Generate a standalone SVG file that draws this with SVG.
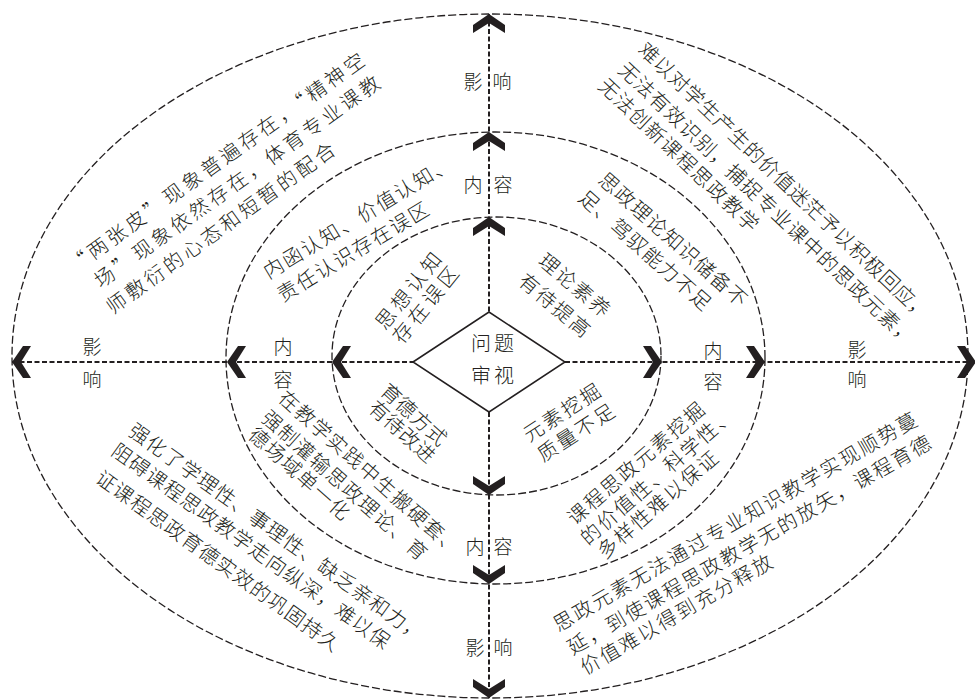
<svg xmlns="http://www.w3.org/2000/svg" width="975" height="700" viewBox="0 0 975 700">
<style>
.ring{fill:none;stroke:#231f20;stroke-width:1.3;stroke-dasharray:8 3}
.axis{fill:none;stroke:#231f20;stroke-width:2;stroke-dasharray:5 2.5}
.chev{fill:#231f20}
.dia{fill:#fff;stroke:#231f20;stroke-width:1.5}
text{font-family:"Noto Sans CJK SC","Noto Sans CJK JP",sans-serif;fill:#231f20;dominant-baseline:central;font-weight:300}
.lab{font-size:19px;text-anchor:middle}
.ctr{font-size:20px;text-anchor:middle;letter-spacing:3px}
.t{font-size:20px}
.q{font-feature-settings:"fwid" 1}
</style>
<defs>
<path id="chev" d="M0,0 L16,11 L16,19 L0,9 L-16,19 L-16,11 Z"/>
</defs>
<rect width="975" height="700" fill="#fff"/>

<g id="rings">
<ellipse class="ring" cx="490" cy="356" rx="478" ry="342"/>
<ellipse class="ring" cx="495.5" cy="358" rx="269.5" ry="226"/>
<ellipse class="ring" cx="496.5" cy="356" rx="164.5" ry="139"/>
</g>

<g id="connectors">
<line class="axis" x1="12" y1="362" x2="413" y2="362"/>
<line class="axis" x1="565" y1="362" x2="975" y2="362"/>
<line class="axis" x1="489" y1="14" x2="489" y2="312"/>
<line class="axis" x1="489" y1="412" x2="489" y2="698"/>
<g class="chev">
<use href="#chev" transform="translate(489,14)"/>
<use href="#chev" transform="translate(489,132)"/>
<use href="#chev" transform="translate(489,217)"/>
<use href="#chev" transform="translate(489,698) rotate(180)"/>
<use href="#chev" transform="translate(489,584) rotate(180)"/>
<use href="#chev" transform="translate(489,495) rotate(180)"/>
<use href="#chev" transform="translate(12,362) rotate(-90)"/>
<use href="#chev" transform="translate(227,362) rotate(-90)"/>
<use href="#chev" transform="translate(332,362) rotate(-90)"/>
<use href="#chev" transform="translate(976,362) rotate(90)"/>
<use href="#chev" transform="translate(765,362) rotate(90)"/>
<use href="#chev" transform="translate(662,362) rotate(90)"/>
</g>
</g>

<g id="center">
<polygon class="dia" points="413,362 489,312 565,362 489,412"/>
<text class="ctr" x="494" y="342">问题</text>
<text class="ctr" x="494" y="374">审视</text>
</g>

<g id="axis-labels">
<text class="lab" x="473" y="80">影</text><text class="lab" x="502" y="80">响</text>
<text class="lab" x="473" y="183">内</text><text class="lab" x="503" y="183">容</text>
<text class="lab" x="475" y="545">内</text><text class="lab" x="503" y="545">容</text>
<text class="lab" x="475" y="646">影</text><text class="lab" x="503" y="646">响</text>
<text class="lab" x="92" y="345">影</text><text class="lab" x="92" y="378">响</text>
<text class="lab" x="283" y="345">内</text><text class="lab" x="283" y="378">容</text>
<text class="lab" x="713" y="349">内</text><text class="lab" x="713" y="380">容</text>
<text class="lab" x="857" y="348">影</text><text class="lab" x="857" y="378">响</text>
</g>

<g id="inner-ul">
<text class="t" style="letter-spacing:4px" x="-10" transform="translate(385,318) rotate(-51)">思想认知</text>
<text class="t" style="letter-spacing:4px" x="-10" transform="translate(402,332) rotate(-51)">存在误区</text>
</g>
<g id="inner-ur">
<text class="t" style="letter-spacing:2px" x="-10" transform="translate(550,263) rotate(40)">理论素养</text>
<text class="t" style="letter-spacing:2px" x="-10" transform="translate(530,283) rotate(40)">有待提高</text>
</g>
<g id="inner-ll">
<text class="t" style="letter-spacing:0.5px" x="-10" transform="translate(392,393) rotate(42)">育德方式</text>
<text class="t" style="letter-spacing:0.5px" x="-10" transform="translate(380,410) rotate(42)">有待改进</text>
</g>
<g id="inner-lr">
<text class="t" style="letter-spacing:2.5px" x="-10" transform="translate(533,430) rotate(-33)">元素挖掘</text>
<text class="t" style="letter-spacing:2.5px" x="-10" transform="translate(547,450) rotate(-33)">质量不足</text>
</g>

<g id="middle-ul">
<text class="t" style="letter-spacing:1.8px" x="-10" transform="translate(273,267) rotate(-31)">内函认知、价值认知、</text>
<text class="t" style="letter-spacing:1.8px" x="-10" transform="translate(287,290) rotate(-31)">责任认识存在误区</text>
</g>
<g id="middle-ur">
<text class="t" style="letter-spacing:1.3px" x="-10" transform="translate(610,182) rotate(41.5)">思政理论知识储备不</text>
<text class="t" style="letter-spacing:1.3px" x="-10" transform="translate(590,200) rotate(41.5)">足、驾驭能力不足</text>
</g>
<g id="middle-ll">
<text class="t" style="letter-spacing:1.5px" x="-10" transform="translate(290,400) rotate(41.6)">在教学实践中生搬硬套、</text>
<text class="t" style="letter-spacing:1.5px" x="-10" transform="translate(273,420) rotate(41.6)">强制灌输思政理论、育</text>
<text class="t" style="letter-spacing:1.5px" x="-10" transform="translate(260,437) rotate(41.6)">德场域单一化</text>
</g>
<g id="middle-lr">
<text class="t" style="letter-spacing:2px" x="-10" transform="translate(577,513) rotate(-41)">课程思政元素挖掘</text>
<text class="t" style="letter-spacing:2px" x="-10" transform="translate(590,533) rotate(-41)">的价值性、科学性、</text>
<text class="t" style="letter-spacing:2px" x="-10" transform="translate(607,547) rotate(-41)">多样性难以保证</text>
</g>

<g id="outer-ul">
<text class="t q" style="letter-spacing:3.3px" x="-10" transform="translate(78,261) rotate(-35.8)">“两张皮”现象普遍存在，“精神空</text>
<text class="t q" style="letter-spacing:3.3px" x="-10" transform="translate(104,276) rotate(-35.8)">场”现象依然存在，体育专业课教</text>
<text class="t q" style="letter-spacing:3.3px" x="-10" transform="translate(116,302) rotate(-35.8)">师敷衍的心态和短暂的配合</text>
</g>
<g id="outer-ur">
<text class="t" style="letter-spacing:0.7px" x="-10" transform="translate(650,52) rotate(43.5)">难以对学生产生的价值迷茫予以积极回应，</text>
<text class="t" style="letter-spacing:1.1px" x="-10" transform="translate(630,72) rotate(43.5)">无法有效识别，捕捉专业课中的思政元素，</text>
<text class="t" style="letter-spacing:1.3px" x="-10" transform="translate(610,88) rotate(43.5)">无法创新课程思政教学</text>
</g>
<g id="outer-ll">
<text class="t" style="letter-spacing:1.1px" x="-10" transform="translate(140,433) rotate(35.6)">强化了学理性、事理性、缺乏亲和力，</text>
<text class="t" style="letter-spacing:1.1px" x="-10" transform="translate(123,453) rotate(35.6)">阻碍课程思政教学走向纵深，难以保</text>
<text class="t" style="letter-spacing:1.1px" x="-10" transform="translate(107,480) rotate(35.6)">证课程思政育德实效的巩固持久</text>
</g>
<g id="outer-lr">
<text class="t" style="letter-spacing:2px" x="-10" transform="translate(563,620) rotate(-30)">思政元素无法通过专业知识教学实现顺势蔓</text>
<text class="t" style="letter-spacing:2px" x="-10" transform="translate(577,643) rotate(-30)">延，到使课程思政教学无的放矢，课程育德</text>
<text class="t" style="letter-spacing:2px" x="-10" transform="translate(590,663) rotate(-30)">价值难以得到充分释放</text>
</g>
</svg>
